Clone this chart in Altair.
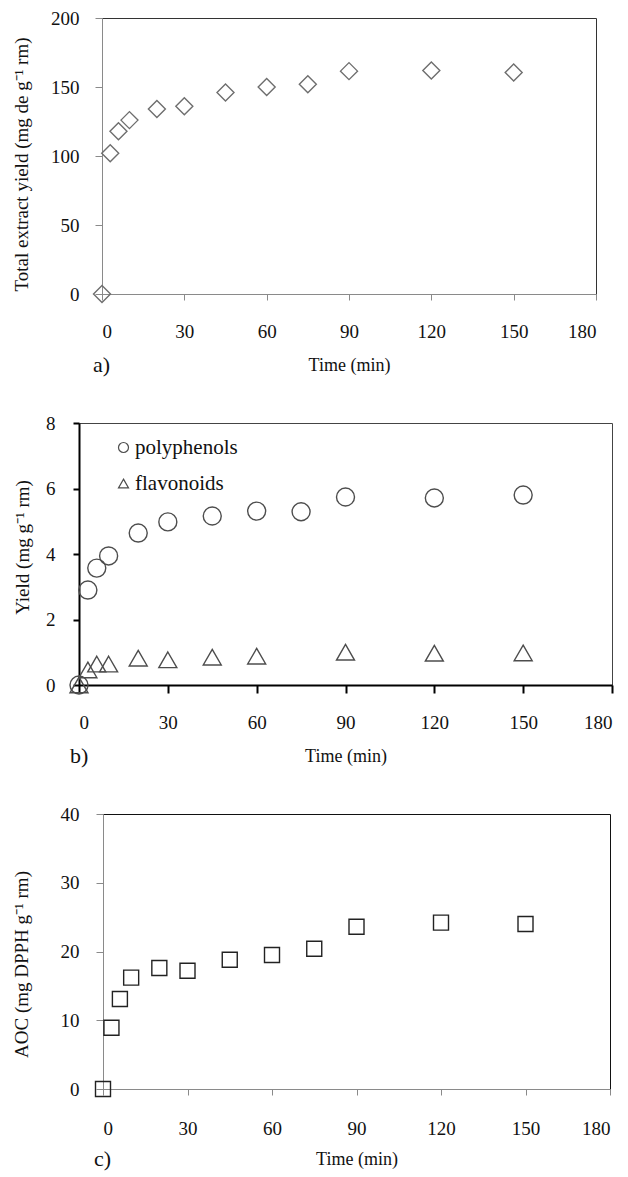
import altair as alt
import pandas as pd

# ---------------- data ----------------
time_a = [0, 3, 6, 10, 20, 30, 45, 60, 75, 90, 120, 150]
total_yield = [0, 102, 118, 126, 134, 136, 146, 150, 152, 161.5, 162, 160.5]

time_poly = [0, 3, 6, 10, 20, 30, 45, 60, 75, 90, 120, 150]
polyphenols = [0, 2.9, 3.57, 3.94, 4.64, 4.98, 5.16, 5.31, 5.29, 5.74, 5.71, 5.8]
time_flav = [0, 3, 6, 10, 20, 30, 45, 60, 90, 120, 150]
flavonoids = [0, 0.46, 0.64, 0.64, 0.82, 0.77, 0.85, 0.88, 1.0, 0.97, 0.98]

time_c = [0, 3, 6, 10, 20, 30, 45, 60, 75, 90, 120, 150]
aoc = [0, 8.9, 13.1, 16.2, 17.6, 17.2, 18.8, 19.5, 20.4, 23.6, 24.2, 24.0]

x_ticks = [0, 30, 60, 90, 120, 150, 180]
series_names = ["polyphenols", "flavonoids"]

FONT = "Liberation Serif"
TRI = "M0,-0.866L1,0.866L-1,0.866Z"

df_a = pd.DataFrame({"time": time_a, "value": total_yield})
df_b = pd.concat([
    pd.DataFrame({"time": time_poly, "value": polyphenols, "series": "polyphenols"}),
    pd.DataFrame({"time": time_flav, "value": flavonoids, "series": "flavonoids"}),
])
df_c = pd.DataFrame({"time": time_c, "value": aoc})


def x_axis(color, width, tick, lpad, title_y):
    return alt.Axis(values=x_ticks, title="Time (min)", grid=False,
                    domainColor=color, domainWidth=width, tickColor=color,
                    tickWidth=width, tickSize=tick, labelPadding=lpad,
                    labelFont=FONT, labelFontSize=19, labelColor="#111",
                    titleFont=FONT, titleFontSize=18, titleFontWeight="normal",
                    titleColor="#111", titleBaseline="middle", titleY=title_y)


def y_axis(values, title, color, width, tick, lpad, title_x, title_y):
    return alt.Axis(values=values, title=title, grid=False,
                    domainColor=color, domainWidth=width, tickColor=color,
                    tickWidth=width, tickSize=tick, labelPadding=lpad,
                    labelFont=FONT, labelFontSize=19, labelColor="#111",
                    titleFont=FONT, titleFontSize=19, titleFontWeight="normal",
                    titleColor="#111", titleBaseline="middle",
                    titleX=title_x, titleY=title_y)


def letter(txt, off):
    return alt.TitleParams(txt, orient="bottom", anchor="start", frame="group",
                           dx=-9, offset=off, font=FONT, fontSize=22,
                           fontWeight="normal", color="#111")


def spacer():
    return alt.Chart(pd.DataFrame({"v": [0]})).mark_point(
        opacity=0, size=0, strokeWidth=0
    ).encode(
        x=alt.value(0), y=alt.value(0)
    ).properties(width=1, height=1,
                 view=alt.ViewBackground(stroke="transparent"))


xscale = alt.Scale(domain=[0, 180], nice=False, zero=True)

# ---------------- panel a ----------------
pa = alt.Chart(df_a).mark_point(
    shape="diamond", size=289, filled=False, color="#6e6e6e",
    strokeWidth=1.4, opacity=1
).encode(
    x=alt.X("time:Q", scale=xscale, axis=x_axis("#8a8a8a", 1, 6, 22, 71)),
    y=alt.Y("value:Q", scale=alt.Scale(domain=[0, 200], nice=False),
            axis=y_axis([0, 50, 100, 150, 200],
                        "Total extract yield (mg de g\u207b\u00b9 rm)",
                        "#8a8a8a", 1, 7, 16, -80.5, 146)),
).properties(width=494, height=276, title=letter("a)", -19),
             view=alt.ViewBackground(stroke="#333", strokeWidth=1))

# ---------------- panel b ----------------
pb = alt.Chart(df_b).mark_point(
    size=324, filled=False, color="#4d4d4d", strokeWidth=1.4, opacity=1
).encode(
    x=alt.X("time:Q", scale=xscale, axis=x_axis("#000", 2, 8, 20, 71)),
    y=alt.Y("value:Q", scale=alt.Scale(domain=[0, 8], nice=False),
            axis=y_axis([0, 2, 4, 6, 8], "Yield (mg g\u207b\u00b9 rm)",
                        "#000", 2, 6, 18, -56.5, 124)),
    shape=alt.Shape("series:N",
                    scale=alt.Scale(domain=series_names, range=["circle", TRI]),
                    legend=alt.Legend(title=None, orient="none", legendX=34,
                                      legendY=14, direction="vertical",
                                      labelFont=FONT, labelFontSize=21,
                                      labelColor="#111", labelOffset=1,
                                      symbolSize=100, symbolStrokeWidth=1.2,
                                      symbolStrokeColor="#4d4d4d",
                                      symbolFillColor="transparent",
                                      rowPadding=14, padding=0)),
).properties(width=533, height=262, title=letter("b)", -19),
             view=alt.ViewBackground(stroke="#444", strokeWidth=1))

# ---------------- panel c ----------------
pc = alt.Chart(df_c).mark_point(
    shape="square", size=225, filled=False, color="#222",
    strokeWidth=1.4, opacity=1
).encode(
    x=alt.X("time:Q", scale=xscale, axis=x_axis("#8a8a8a", 1, 6, 24, 70)),
    y=alt.Y("value:Q", scale=alt.Scale(domain=[0, 40], nice=False),
            axis=y_axis([0, 10, 20, 30, 40], "AOC (mg DPPH g\u207b\u00b9 rm)",
                        "#8a8a8a", 1, 7, 17, -81.5, 150)),
).properties(width=507, height=275, title=letter("c)", -19),
             view=alt.ViewBackground(stroke="#111", strokeWidth=1))

row_a = alt.hconcat(spacer(), pa, spacing=0)
row_b = alt.hconcat(spacer(), pb, spacing=0).resolve_legend(shape="independent")
row_c = alt.hconcat(spacer(), pc, spacing=0)

chart = alt.vconcat(row_a, row_b, row_c, spacing=36).resolve_legend(
    shape="independent"
).resolve_scale(shape="independent").properties(
    padding={"left": 1, "right": 0, "top": 0, "bottom": 0}
).configure(background="white")

chart.save("out.html", embed_options={"renderer": "svg", "actions": False})
